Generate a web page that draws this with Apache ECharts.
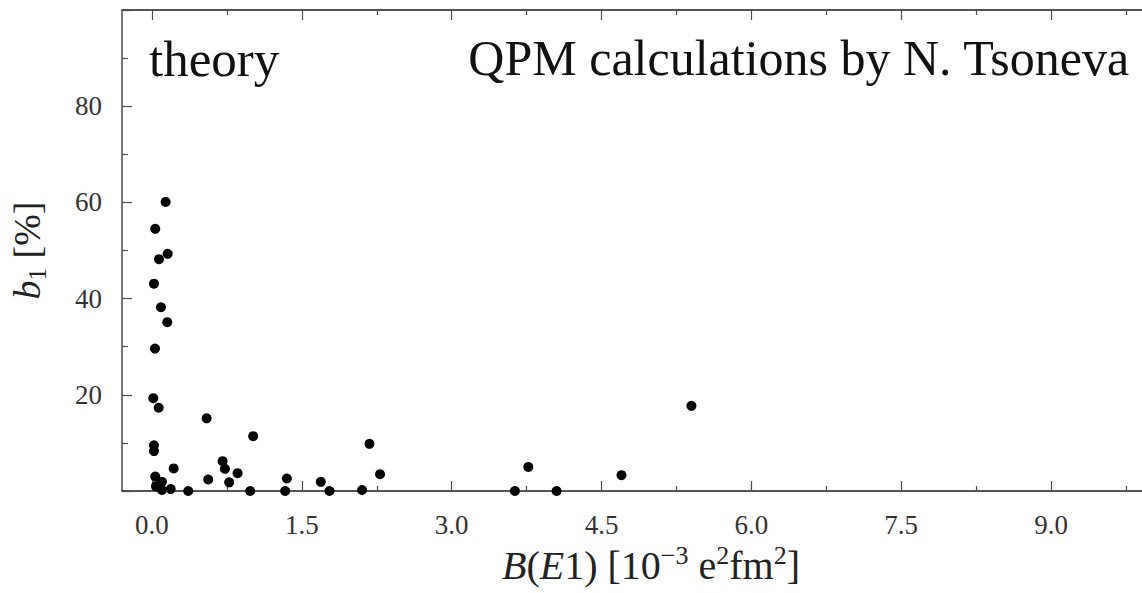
<!DOCTYPE html>
<html>
<head>
<meta charset="utf-8">
<script src="https://cdn.jsdelivr.net/npm/echarts@6/dist/echarts.min.js"></script>
<style>
html,body{margin:0;padding:0;background:#fff;}
#chart{width:1142px;height:593px;}
</style>
</head>
<body>
<div id="chart"></div>
<script>
// B(E1) values [10^-3 e^2 fm^2]
const bE1 = [0.137, 0.033, 0.157, 0.07, 0.02, 0.09, 0.153, 0.03, 0.013, 0.067,
  0.547, 1.013, 0.02, 0.02, 0.217, 0.707, 0.73, 0.857, 0.033, 0.563,
  0.773, 0.10, 0.04, 0.10, 0.187, 0.363, 0.983, 1.333, 1.35, 1.69,
  1.777, 2.103, 2.177, 2.283, 3.633, 3.767, 4.05, 4.70, 5.40];
// b1 values [%]
const b1 = [60.1, 54.5, 49.3, 48.2, 43.1, 38.2, 35.1, 29.6, 19.3, 17.3,
  15.1, 11.4, 9.5, 8.3, 4.7, 6.2, 4.6, 3.7, 3.0, 2.4,
  1.8, 1.9, 1.0, 0.2, 0.4, 0.0, 0.0, 0.0, 2.6, 1.9,
  0.0, 0.2, 9.8, 3.5, 0.0, 5.0, 0.0, 3.3, 17.7];
const xMajorTicks = [0, 1.5, 3.0, 4.5, 6.0, 7.5, 9.0];
const xMinorTicks = [0.75, 2.25, 3.75, 5.25, 6.75, 8.25, 9.75];
const yTickLabels = [20, 40, 60, 80];
const textLeft = 'theory';
const textRight = 'QPM calculations by N. Tsoneva';

const points = bE1.map((v, i) => [v, b1[i]]);
const serif = '"Liberation Serif", "DejaVu Serif", serif';
const axisColor = '#4a4a4a';
const X_MIN = -0.3, X_MAX = 9.91;

function xAx(pos, ticks, len, labels, extra) {
  return Object.assign({
    type: 'value', position: pos, min: X_MIN, max: X_MAX,
    axisLine: { show: true, onZero: false, lineStyle: { color: axisColor, width: 1.5 } },
    axisTick: { show: true, inside: true, length: len, customValues: ticks, lineStyle: { color: axisColor, width: 1.2 } },
    axisLabel: labels ? {
      show: true, customValues: labels, margin: 20,
      fontFamily: serif, fontSize: 27, color: '#333',
      formatter: v => Number(v).toFixed(1)
    } : { show: false },
    splitLine: { show: false }
  }, extra || {});
}

const chart = echarts.init(document.getElementById('chart'), null, { renderer: 'svg' });
chart.setOption({
  animation: false,
  backgroundColor: '#fff',
  grid: { left: 121, right: 0, top: 10, bottom: 102, containLabel: false },
  xAxis: [
    xAx('bottom', xMajorTicks, 10, xMajorTicks, {
      name: '{i|B}{n|(}{i|E}{n|1) [10}{s|−3}{n| e}{s|2}{n|fm}{s|2}{n|]}',
      nameLocation: 'middle', nameGap: 50,
      nameTextStyle: {
        fontFamily: serif, fontSize: 40, color: '#222', padding: [0, 0, 0, 38],
        rich: {
          i: { fontFamily: serif, fontSize: 40, fontStyle: 'italic', color: '#222', lineHeight: 46 },
          n: { fontFamily: serif, fontSize: 40, color: '#222', lineHeight: 46 },
          s: { fontFamily: serif, fontSize: 26, color: '#222', lineHeight: 28, verticalAlign: 'top' }
        }
      }
    }),
    xAx('bottom', xMinorTicks, 5, null),
    xAx('top', xMajorTicks, 10, null),
    xAx('top', xMinorTicks, 5, null)
  ],
  yAxis: [{
    type: 'value', position: 'left', min: 0, max: 100, interval: 20,
    axisLine: { show: true, onZero: false, lineStyle: { color: axisColor, width: 1.5 } },
    axisTick: { show: true, inside: true, length: 10, lineStyle: { color: axisColor, width: 1.2 } },
    minorTick: { show: true, splitNumber: 2, length: 6, lineStyle: { color: axisColor, width: 1.2 } },
    axisLabel: {
      show: true, customValues: yTickLabels, margin: 20,
      fontFamily: serif, fontSize: 27, color: '#333'
    },
    splitLine: { show: false }, minorSplitLine: { show: false },
    name: '{i|b}{d|1}{n| [%]}',
    nameLocation: 'middle', nameGap: 72,
    nameTextStyle: {
      fontFamily: serif, fontSize: 38, color: '#222',
      rich: {
        i: { fontFamily: serif, fontSize: 38, fontStyle: 'italic', color: '#222', lineHeight: 46 },
        n: { fontFamily: serif, fontSize: 38, color: '#222', lineHeight: 46 },
        d: { fontFamily: serif, fontSize: 25, color: '#222', lineHeight: 27, verticalAlign: 'bottom' }
      }
    }
  }],
  graphic: [
    { type: 'text', left: 149, top: 33, style: { text: textLeft, font: '51px ' + serif, fill: '#111' } },
    { type: 'text', right: 12, top: 33, style: { text: textRight, font: '50px ' + serif, fill: '#111' } }
  ],
  series: [{
    type: 'scatter', xAxisIndex: 0, yAxisIndex: 0,
    data: points, symbol: 'circle', symbolSize: 10, clip: false,
    itemStyle: { color: '#000', opacity: 1 }
  }]
});
</script>
</body>
</html>
